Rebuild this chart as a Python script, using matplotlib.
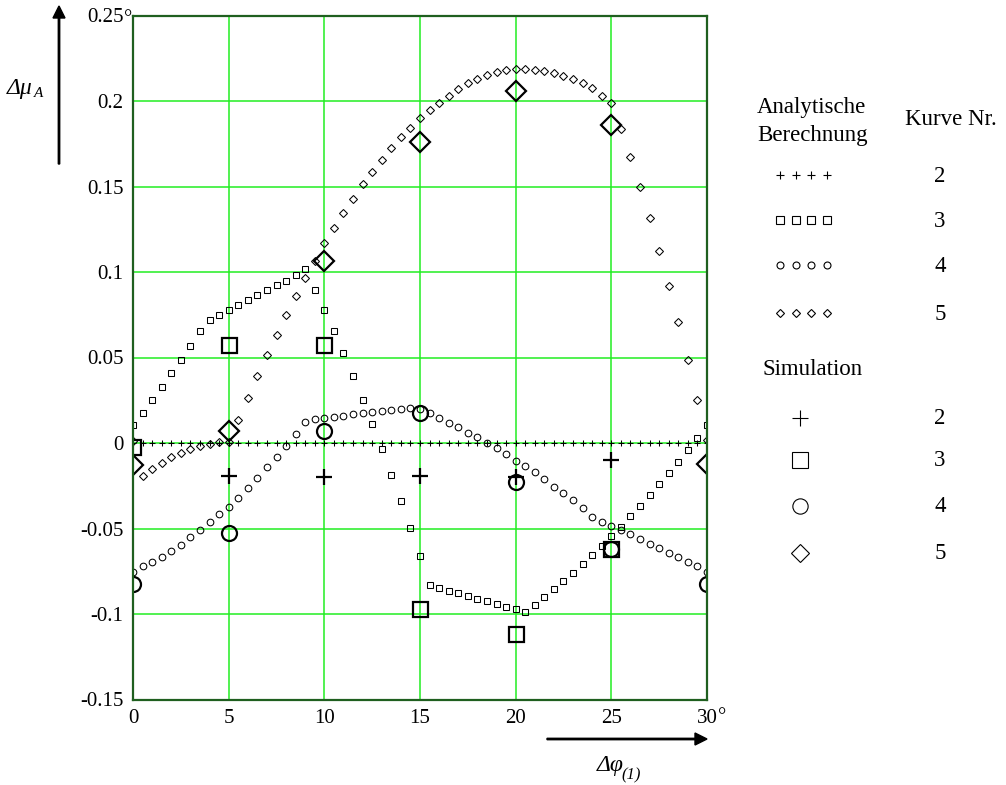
import numpy as np
import matplotlib
matplotlib.use("Agg")
import matplotlib.pyplot as plt
from matplotlib.lines import Line2D
from matplotlib.patches import FancyArrow

# ---------------------------------------------------------------- data
# angle step of the analytic curves (degrees)
phi = np.linspace(0, 30, 61)

# analytic calculation, curve no. 2 ... 5
kurve2 = [0.0] * 61
kurve3 = [0.0105, 0.0174, 0.0252, 0.0326, 0.0408, 0.0486, 0.0567, 0.0655, 0.0720, 0.0749,
          0.0778, 0.0807, 0.0837, 0.0866, 0.0895, 0.0924, 0.0950, 0.0980, 0.1016, 0.0895,
          0.0778, 0.0655, 0.0528, 0.0392, 0.0252, 0.0111, -0.0035, -0.0187, -0.0339, -0.0499,
          -0.0661, -0.0830, -0.0846, -0.0865, -0.0879, -0.0893, -0.0912, -0.0924, -0.0942, -0.0957,
          -0.0971, -0.0990, -0.0947, -0.0899, -0.0856, -0.0807, -0.0762, -0.0709, -0.0655, -0.0602,
          -0.0544, -0.0489, -0.0427, -0.0368, -0.0304, -0.0240, -0.0177, -0.0109, -0.0041, 0.0027,
          0.0105]
kurve4 = [-0.0753, -0.0719, -0.0694, -0.0665, -0.0630, -0.0595, -0.0552, -0.0509, -0.0464, -0.0417,
          -0.0372, -0.0320, -0.0261, -0.0203, -0.0142, -0.0080, -0.0016, 0.0053, 0.0125, 0.0139,
          0.0148, 0.0154, 0.0158, 0.0168, 0.0174, 0.0180, 0.0187, 0.0193, 0.0197, 0.0203,
          0.0198, 0.0174, 0.0144, 0.0119, 0.0092, 0.0060, 0.0034, 0.0002, -0.0031, -0.0065,
          -0.0103, -0.0136, -0.0172, -0.0212, -0.0255, -0.0294, -0.0335, -0.0382, -0.0431, -0.0460,
          -0.0484, -0.0509, -0.0534, -0.0563, -0.0590, -0.0616, -0.0641, -0.0668, -0.0698, -0.0719,
          -0.0753]
kurve5 = [0.0010, -0.0193, -0.0154, -0.0115, -0.0080, -0.0057, -0.0035, -0.0016, -0.0006, 0.0006,
          0.0007, 0.0135, 0.0265, 0.0390, 0.0515, 0.0630, 0.0750, 0.0860, 0.0967, 0.1065,
          0.1168, 0.1260, 0.1347, 0.1427, 0.1513, 0.1587, 0.1656, 0.1727, 0.1787, 0.1845,
          0.1900, 0.1948, 0.1990, 0.2030, 0.2070, 0.2105, 0.2128, 0.2150, 0.2167, 0.2179,
          0.2186, 0.2186, 0.2182, 0.2176, 0.2163, 0.2147, 0.2130, 0.2105, 0.2075, 0.2032,
          0.1990, 0.1835, 0.1675, 0.1500, 0.1315, 0.1125, 0.0918, 0.0706, 0.0486, 0.0252,
          0.0020]

# simulation results
sim2_phi = [5, 10, 15, 20, 25]
sim2 = [-0.0195, -0.0197, -0.0195, -0.0197, -0.0099]
sim3_phi = [0, 5, 10, 15, 20, 25]
sim3 = [-0.0022, 0.0573, 0.0573, -0.0971, -0.1117, -0.0622]
sim45_phi = [0, 5, 10, 15, 20, 25, 30]
sim4 = [-0.0825, -0.0524, 0.0072, 0.0174, -0.0226, -0.0622, -0.0825]
sim5 = [-0.0129, 0.0070, 0.1064, 0.1762, 0.2060, 0.1860, -0.0120]

x_ticks = [0, 5, 10, 15, 20, 25, 30]
x_tick_labels = ["0", "5", "10", "15", "20", "25", "30"]
y_ticks = [-0.15, -0.10, -0.05, 0.0, 0.05, 0.10, 0.15, 0.20, 0.25]
y_tick_labels = ["-0.15", "-0.1", "-0.05", "0", "0.05", "0.1", "0.15", "0.2", "0.25"]
kurve_nr = ["2", "3", "4", "5"]

# ---------------------------------------------------------------- figure
SERIF = "Liberation Serif"
plt.rcParams["font.family"] = SERIF

W, H = 1006, 785
fig = plt.figure(figsize=(W / 100, H / 100), dpi=100)


def fx(px):
    return px / W


def fy(py):
    return 1 - py / H


ax = fig.add_axes([fx(133), fy(699.5), (707 - 133) / W, (699.5 - 15.5) / H])
ax.set_xlim(0, 30)
ax.set_ylim(-0.15, 0.25)

ax.set_xticks(x_ticks, x_tick_labels)
ax.set_yticks(y_ticks, y_tick_labels)
ax.tick_params(length=0, labelsize=15)
ax.tick_params(axis="x", pad=7)
ax.tick_params(axis="y", pad=7)
ax.grid(True, color="#22ee22", lw=1.1)
ax.set_axisbelow(True)
for s in ax.spines.values():
    s.set_color("#1f5f1f")
    s.set_linewidth(1.6)
    s.set_zorder(5)

# analytic curves: small open markers
small = dict(linestyle="none", color="k", mfc="none", mew=0.75)
ax.plot(phi, kurve2, marker="+", ms=5.0, **small)
ax.plot(phi, kurve3, marker="s", ms=4.4, **small)
ax.plot(phi, kurve4, marker="o", ms=4.8, **small)
ax.plot(phi, kurve5, marker="D", ms=3.7, **small)

# simulation: large open markers
big = dict(linestyle="none", color="k", mfc="none", mew=1.6)
ax.plot(sim2_phi, sim2, marker="+", ms=11.5, **big)
ax.plot(sim3_phi, sim3, marker="s", ms=10.8, **big)
ax.plot(sim45_phi, sim4, marker="o", ms=10.8, **big)
ax.plot(sim45_phi, sim5, marker="D", ms=10.0, **big)

# degree signs at the axis ends
fig.text(fx(124), fy(24), "°", fontsize=15, ha="left", va="baseline")
fig.text(fx(718), fy(722), "°", fontsize=15, ha="left", va="baseline")


# axis arrows
def arrow(x0, y0, x1, y1):
    fig.add_artist(FancyArrow(x0 / 100, (H - y0) / 100, (x1 - x0) / 100, -(y1 - y0) / 100,
                              width=0.014, head_width=0.12, head_length=0.12,
                              length_includes_head=True, color="k",
                              transform=fig.dpi_scale_trans))


arrow(59, 164, 59, 6)
arrow(547, 739, 707, 739)

# axis labels
fig.text(fx(7), fy(94), "Δμ", fontsize=17, style="italic", ha="left", va="baseline")
fig.text(fx(34), fy(97), "A", fontsize=11, style="italic", ha="left", va="baseline")
fig.text(fx(597), fy(771), "Δφ", fontsize=17, style="italic", ha="left", va="baseline")
fig.text(fx(621), fy(779), "(1)", fontsize=12, style="italic", ha="left", va="baseline")

# key on the right
LS = 16.5
fig.text(fx(757), fy(113), "Analytische", fontsize=LS, ha="left", va="baseline")
fig.text(fx(757), fy(141), "Berechnung", fontsize=LS, ha="left", va="baseline")
fig.text(fx(905), fy(125), "Kurve Nr.", fontsize=LS, ha="left", va="baseline")
fig.text(fx(763), fy(375), "Simulation", fontsize=LS, ha="left", va="baseline")

key_small = [("+", 6.3, 175), ("s", 5.2, 220), ("o", 5.0, 265), ("D", 4.1, 313)]
for (m, ms, yy), nr in zip(key_small, kurve_nr):
    for i in range(4):
        fig.add_artist(Line2D([fx(780 + 15.5 * i)], [fy(yy)], marker=m, ms=ms, color="k",
                              mfc="none", mew=0.8, linestyle="none", transform=fig.transFigure))
    fig.text(fx(940), fy(yy + 7), nr, fontsize=LS, ha="center", va="baseline")

key_big = [("+", 11.5, 418), ("s", 11.0, 460), ("o", 11.0, 506), ("D", 9.0, 553)]
for (m, ms, yy), nr in zip(key_big, kurve_nr):
    fig.add_artist(Line2D([fx(800)], [fy(yy)], marker=m, ms=ms, color="k", mfc="none",
                          mew=0.8, linestyle="none", transform=fig.transFigure))
    fig.text(fx(940), fy(yy + 6), nr, fontsize=LS, ha="center", va="baseline")

fig.savefig("out.png", dpi=100)
